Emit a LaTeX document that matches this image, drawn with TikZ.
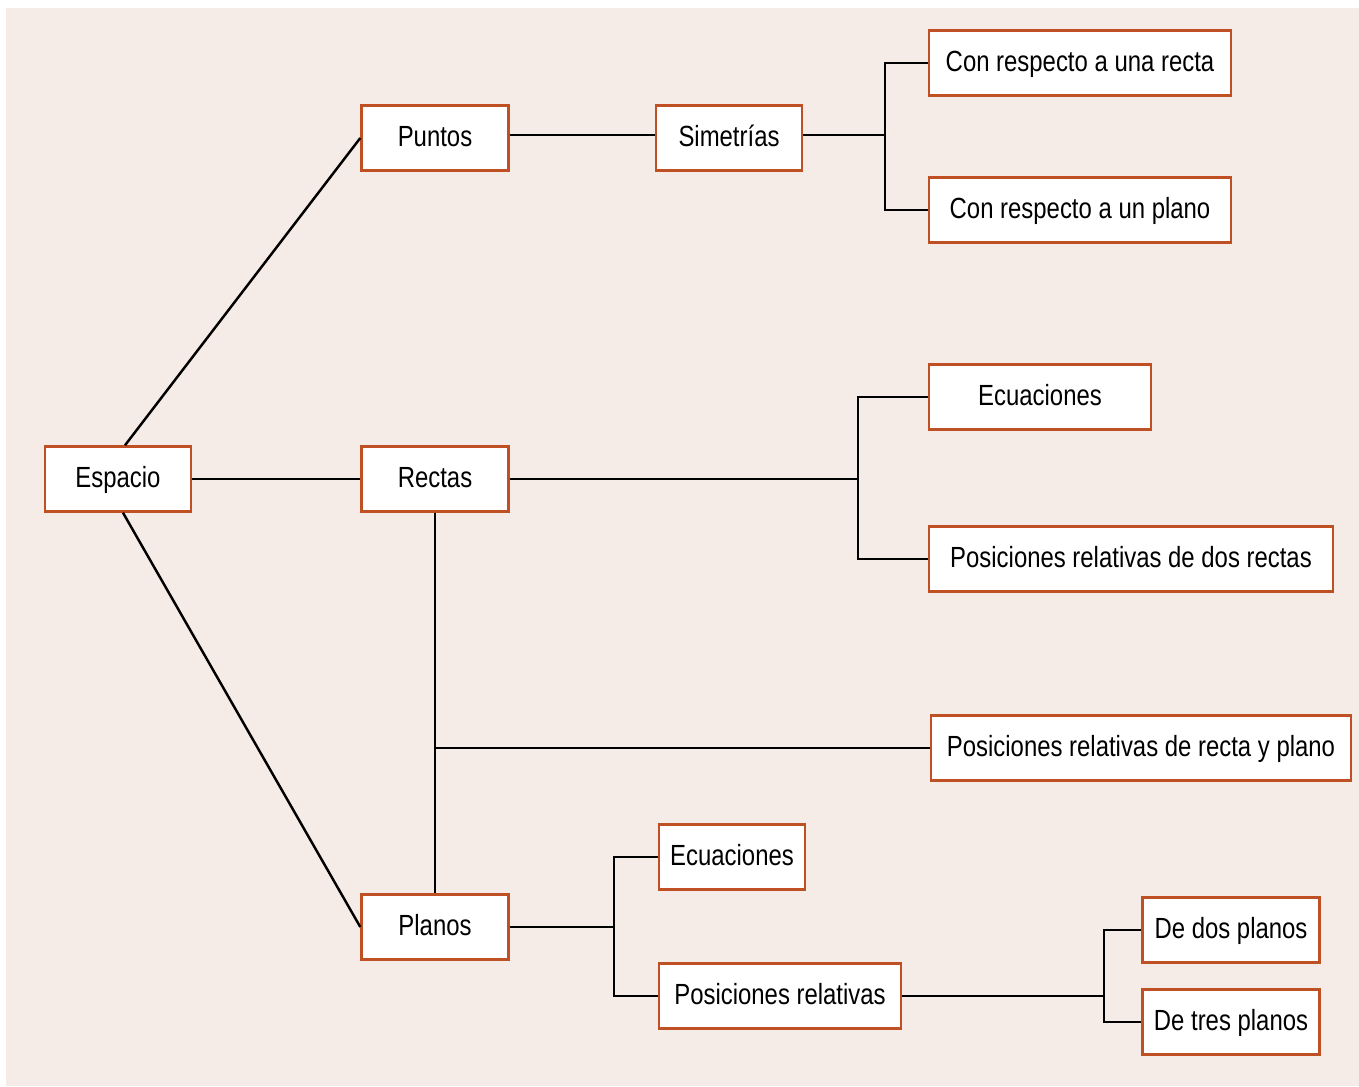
\documentclass[tikz,border=0pt]{standalone}
\usepackage{fontspec}
\setmainfont{Liberation Sans}[FakeStretch=0.82]
\definecolor{bgpink}{RGB}{245,236,231}
\definecolor{boxedge}{RGB}{190,80,35}

\begin{document}
\begin{tikzpicture}[x=0.02cm, y=-0.02cm,
    every node/.style={rectangle, draw=boxedge, line width=1.4pt, fill=white,
      minimum height=1.3cm, inner sep=0pt, text height=12pt, text depth=2.4pt,
      font=\fontsize{16.6}{20}\selectfont},
    link/.style={line width=1.4pt}]
        \useasboundingbox (0,0) rectangle (1359,1086);
        \fill[bgpink] (6,8) rectangle (1359,1086);

        \node[minimum width=2.92cm] (Espacio) at (118,479) {Espacio};

        \node[minimum width=2.94cm] (Puntos) at (435,138) {Puntos};
        \node[minimum width=2.94cm] (Rectas) at (435,479) {Rectas};
        \node[minimum width=2.94cm] (Planos) at (435,927) {Planos};

        \node[minimum width=2.92cm] (Simetrias) at (729,138) {Simetrías};
        \node[minimum width=6.04cm] (ConRecta) at (1080,63) {Con respecto a una recta};
        \node[minimum width=6.04cm] (ConPlano) at (1080,210) {Con respecto a un plano};

        \node[minimum width=4.44cm] (EcRectas) at (1040,397) {Ecuaciones};
        \node[minimum width=8.08cm] (DosRectas) at (1131,559) {Posiciones relativas de dos rectas};
        \node[minimum width=8.4cm] (RectaPlano) at (1141,748) {Posiciones relativas de recta y plano};

        \node[minimum width=2.92cm] (EcPlanos) at (732,857) {Ecuaciones};
        \node[minimum width=4.84cm] (PosPlanos) at (780,996) {Posiciones relativas};
        \node[minimum width=3.54cm] (DosPlanos) at (1231,930) {De dos planos};
        \node[minimum width=3.54cm] (TresPlanos) at (1231,1022) {De tres planos};

        % branch points
        \coordinate (jSim) at (885,135);
        \coordinate (jRec) at (858,479);
        \coordinate (jPla) at (614,927);
        \coordinate (jPos) at (1104,996);

        \draw[link] ([xshift=0.14cm]Espacio.north) -- (Puntos.west);
        \draw[link] (Espacio) -- (Rectas);
        \draw[link] ([xshift=0.1cm]Espacio.south) -- (Planos.west);

        \draw[link] (Puntos.east |- jSim) -- (Simetrias.west |- jSim);
        \draw[link] (Simetrias.east |- jSim) -- (jSim);
        \draw[link] (ConRecta.west) -| (jSim) |- (ConPlano.west);

        \draw[link] (Rectas) -- (jRec);
        \draw[link] (EcRectas.west) -| (jRec) |- (DosRectas.west);
        \draw[link] (Rectas.south) -- (Planos.north);
        \draw[link] (Rectas.south |- RectaPlano.west) -- (RectaPlano.west);

        \draw[link] (Planos) -- (jPla);
        \draw[link] (EcPlanos.west) -| (jPla) |- (PosPlanos.west);
        \draw[link] (PosPlanos) -- (jPos);
        \draw[link] (DosPlanos.west) -| (jPos) |- (TresPlanos.west);
      \end{tikzpicture}
\end{document}
